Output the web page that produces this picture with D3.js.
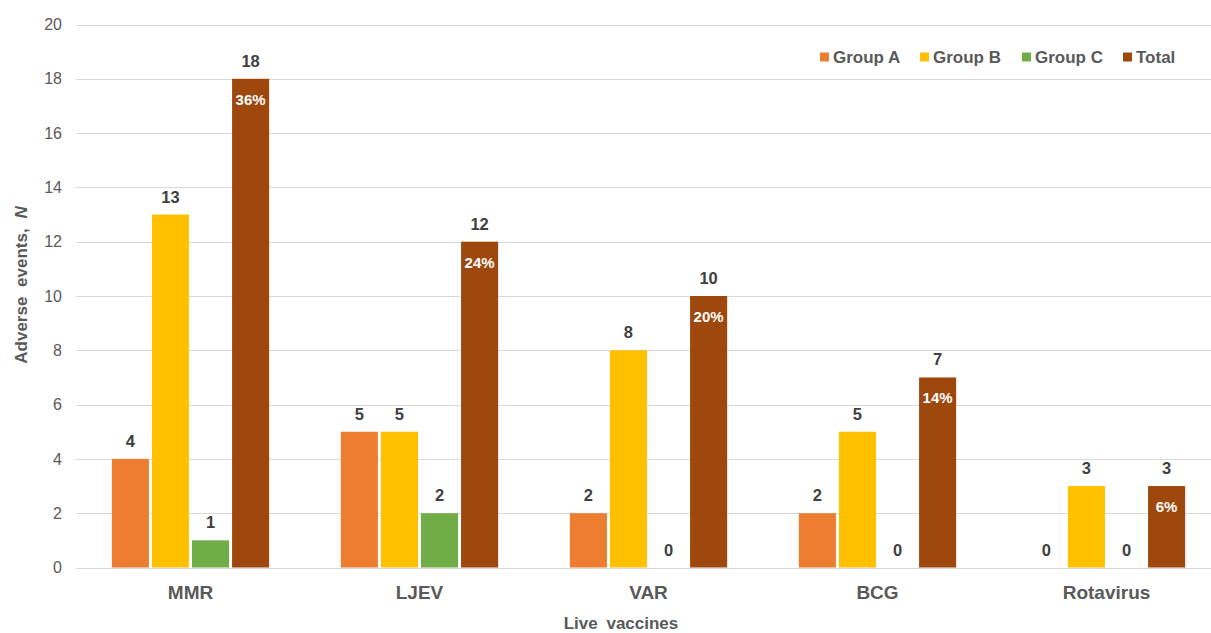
<!DOCTYPE html>
<html>
<head>
<meta charset="utf-8">
<script src="https://cdn.jsdelivr.net/npm/d3@7"></script>
<style>
  html, body { margin: 0; padding: 0; background: #fff; }
  svg { display: block; font-family: "Liberation Sans", Arial, sans-serif; }
</style>
</head>
<body>
<svg id="chart" width="1211" height="633"></svg>
<script>
// Vaccine categories and adverse event counts per group
const vaccines = ["MMR", "LJEV", "VAR", "BCG", "Rotavirus"];
const seriesNames = ["Group A", "Group B", "Group C", "Total"];
const groupA = [4, 5, 2, 2, 0];
const groupB = [13, 5, 8, 5, 3];
const groupC = [1, 2, 0, 0, 0];
const total = [18, 12, 10, 7, 3];
const totalPct = ["36%", "24%", "20%", "14%", "6%"];
const yTicks = [0, 2, 4, 6, 8, 10, 12, 14, 16, 18, 20];
const colors = ["#ED7D31", "#FFC000", "#70AD47", "#9E480E"];

const seriesValues = [groupA, groupB, groupC, total];

const svg = d3.select("#chart");
const W = 1211;
const FONT = "'Liberation Sans', Arial, sans-serif";

const x0 = d3.scaleBand().domain(vaccines).range([76, 1221])
  .paddingInner(0.3).paddingOuter(0.15);
const x1 = d3.scaleBand().domain(seriesNames).range([0, x0.bandwidth()]);
const y = d3.scaleLinear().domain([0, 20]).range([567.5, 24.5]);

// Horizontal gridlines
svg.append("g").selectAll("line").data(yTicks).join("line")
  .attr("x1", 76).attr("x2", W)
  .attr("y1", d => Math.round(y(d)) + 0.5).attr("y2", d => Math.round(y(d)) + 0.5)
  .attr("stroke", "#d9d9d9").attr("stroke-width", 1);

// Y axis tick labels
const yAxis = d3.axisLeft(y).tickValues(yTicks).tickSize(0).tickPadding(0);
const yg = svg.append("g").attr("transform", "translate(62,0)").call(yAxis);
yg.select(".domain").remove();
yg.selectAll("text")
  .attr("fill", "#595959").style("font-size", "16px")
  .style("font-family", FONT);

// X axis category labels
const xAxis = d3.axisBottom(x0).tickSize(0).tickPadding(0);
const xg = svg.append("g").attr("transform", "translate(0,585)").call(xAxis);
xg.select(".domain").remove();
xg.selectAll("text")
  .attr("fill", "#595959").style("font-size", "19px").style("font-weight", "bold")
  .style("font-family", FONT);

// Bars
const rows = [];
vaccines.forEach((v, i) => {
  seriesNames.forEach((s, j) => {
    rows.push({ vaccine: v, series: s, value: seriesValues[j][i], color: colors[j] });
  });
});

const barInset = 1.5;
svg.append("g").selectAll("rect").data(rows.filter(d => d.value > 0)).join("rect")
  .attr("x", d => x0(d.vaccine) + x1(d.series) + barInset)
  .attr("width", x1.bandwidth() - 2 * barInset)
  .attr("y", d => y(d.value))
  .attr("height", d => y(0) - y(d.value))
  .attr("fill", d => d.color);

// Value labels above bars
svg.append("g").selectAll("text").data(rows).join("text")
  .attr("x", d => x0(d.vaccine) + x1(d.series) + x1.bandwidth() / 2)
  .attr("y", d => y(d.value) - 12)
  .attr("text-anchor", "middle")
  .attr("fill", "#404040")
  .style("font-size", "16.5px").style("font-weight", "bold")
  .text(d => d.value);

// Percentage labels inside total bars
svg.append("g").selectAll("text").data(vaccines).join("text")
  .attr("x", d => x0(d) + x1("Total") + x1.bandwidth() / 2)
  .attr("y", (d, i) => y(total[i]) + 26)
  .attr("text-anchor", "middle")
  .attr("fill", "#ffffff")
  .style("font-size", "15px").style("font-weight", "bold")
  .text((d, i) => totalPct[i]);

// Axis titles
svg.append("text")
  .attr("x", 621).attr("y", 629)
  .attr("text-anchor", "middle").attr("fill", "#595959")
  .style("font-size", "17px").style("font-weight", "bold")
  .style("word-spacing", "4px")
  .text("Live vaccines");

const yTitle = svg.append("text")
  .attr("transform", "translate(27,285) rotate(-90)")
  .attr("text-anchor", "middle").attr("fill", "#595959")
  .style("font-size", "17px").style("font-weight", "bold")
  .style("word-spacing", "5px");
yTitle.append("tspan").text("Adverse events, ");
yTitle.append("tspan").style("font-style", "italic").text("N");

// Legend
const legendX = [820, 920, 1022, 1123];
const lg = svg.append("g").selectAll("g").data(seriesNames).join("g")
  .attr("transform", (d, i) => `translate(${legendX[i]},57)`);
lg.append("rect").attr("x", 0).attr("y", -4.5).attr("width", 9).attr("height", 9)
  .attr("fill", (d, i) => colors[i]);
lg.append("text").attr("x", 13).attr("y", 6)
  .attr("fill", "#595959")
  .style("font-size", "17px").style("font-weight", "bold")
  .text(d => d);
</script>
</body>
</html>
